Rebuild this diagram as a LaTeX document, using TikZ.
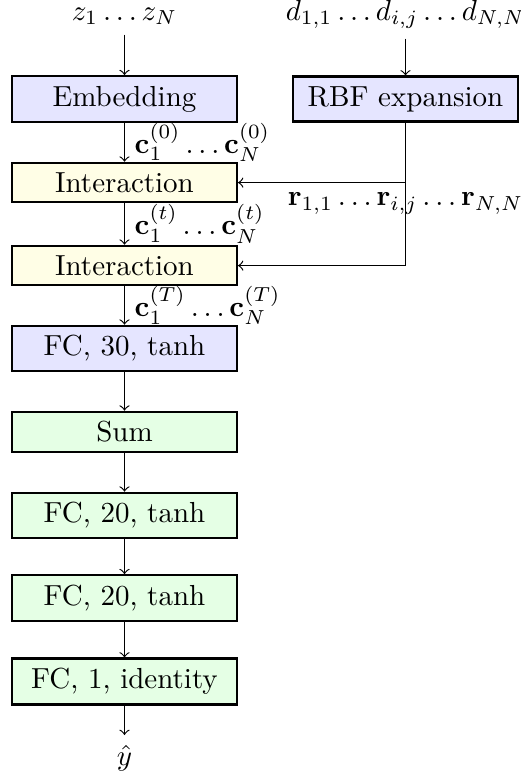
\documentclass[tikz,border=0pt]{standalone}
\usepackage{amsmath}
\begin{document}
\begin{tikzpicture}[x=0.3448pt,y=-0.3448pt,
  box/.style={draw, thick, minimum width=77.5pt, inner sep=3.33pt},
  bluebox/.style={box, fill=blue!10},
  yellowbox/.style={box, fill=yellow!10},
  greenbox/.style={box, fill=green!10},
  arr/.style={->}]
\useasboundingbox (0,0) rectangle (520,782);
\node[anchor=base] (z) at (124.5,20) {$z_1 \dots z_N$};
\node[anchor=base] (d) at (405.5,20) {$d_{1,1} \dots d_{i,j} \dots d_{N,N}$};
\node[bluebox] (emb) at (124.5,99) {Embedding};
\node[bluebox] (rbf) at (405.5,99) {RBF expansion};
\node[yellowbox] (int1) at (124.5,182.6) {Interaction};
\node[yellowbox] (int2) at (124.5,265.6) {Interaction};
\node[bluebox] (fc30) at (124.5,348.5) {FC, 30, tanh};
\node[greenbox] (sum) at (124.5,432) {Sum};
\node[greenbox] (fc20a) at (124.5,515.5) {FC, 20, tanh};
\node[greenbox] (fc20b) at (124.5,598) {FC, 20, tanh};
\node[greenbox] (fc1) at (124.5,681.5) {FC, 1, identity};
\node[anchor=north] (y) at (124.5,735) {$\hat{y}$};
\draw[arr] (z.south) -- (emb.north);
\draw[arr] (d.south) -- (rbf.north);
\draw[arr] (emb) -- node[right] {$\mathbf{c}_1^{(0)} \dots \mathbf{c}_N^{(0)}$} (int1);
\draw[arr] (int1) -- node[right] {$\mathbf{c}_1^{(t)} \dots \mathbf{c}_N^{(t)}$} (int2);
\draw[arr] (int2) -- node[right] {$\mathbf{c}_1^{(T)} \dots \mathbf{c}_N^{(T)}$} (fc30);
\draw[arr] (fc30) -- (sum);
\draw[arr] (sum) -- (fc20a);
\draw[arr] (fc20a) -- (fc20b);
\draw[arr] (fc20b) -- (fc1);
\draw[arr] (fc1) -- (y);
\coordinate (b1) at (rbf.south |- int1.east);
\coordinate (b2) at (rbf.south |- int2.east);
\node[below] (r) at (b1) {$\mathbf{r}_{1,1} \dots \mathbf{r}_{i,j} \dots \mathbf{r}_{N,N}$};
\draw (rbf.south) -- (b2);
\draw[arr] (b1) -- (int1.east);
\draw[arr] (b2) -- (int2.east);
\end{tikzpicture}
\end{document}
